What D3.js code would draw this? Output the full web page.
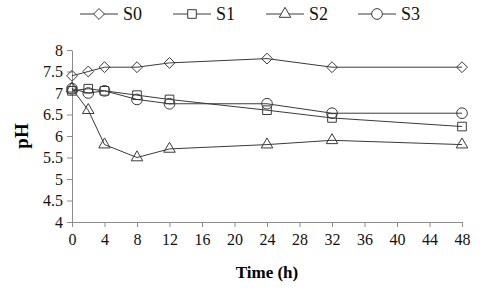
<!DOCTYPE html>
<html>
<head>
<meta charset="utf-8">
<script src="https://cdn.jsdelivr.net/npm/d3@7"></script>
<style>
  body { margin: 0; background: #fff; }
  svg, svg text { font-family: "Liberation Serif", "Times New Roman", Times, "DejaVu Serif", serif; }
</style>
</head>
<body>
<div id="chart"></div>
<script>
// Data
const times = [0, 2, 4, 8, 12, 24, 32, 48];
const seriesNames = ["S0", "S1", "S2", "S3"];
const s0 = [7.4, 7.5, 7.6, 7.6, 7.7, 7.8, 7.6, 7.6];
const s1 = [7.05, 7.1, 7.05, 6.95, 6.85, 6.6, 6.42, 6.22];
const s2 = [7.1, 6.6, 5.8, 5.5, 5.7, 5.8, 5.9, 5.8];
const s3 = [7.1, 7.0, 7.05, 6.85, 6.75, 6.75, 6.53, 6.53];
const xTicks = d3.range(0, 49, 4);
const yTicks = d3.range(4, 8.01, 0.5);

const W = 480, H = 289;
const margin = { top: 50, right: 18, bottom: 67, left: 72 };
const width = W - margin.left - margin.right;
const height = H - margin.top - margin.bottom;

const svgRoot = d3.select("#chart").append("svg")
    .attr("width", W)
    .attr("height", H);

const svg = svgRoot.append("g")
    .attr("transform", `translate(${margin.left},${margin.top})`);

// Scales
const x = d3.scaleLinear().domain([0, 48]).range([0, width]);
const y = d3.scaleLinear().domain([4, 8]).range([height, 0]);

const axisColor = "#8c8c8c";
const lineColor = "#3a3a3a";

// Axes
const xAxis = svg.append("g")
    .attr("transform", `translate(0,${height})`)
    .call(d3.axisBottom(x).tickValues(xTicks).tickSize(5).tickSizeOuter(0).tickPadding(7));
const yAxis = svg.append("g")
    .call(d3.axisLeft(y).tickValues(yTicks).tickSize(5).tickSizeOuter(0).tickPadding(4)
        .tickFormat(d => d3.format("")(+d.toFixed(1))));

[xAxis, yAxis].forEach(a => {
    a.attr("font-family", null);
    a.selectAll("path, line").attr("stroke", axisColor);
    a.selectAll("text")
        .style("font-size", "16px")
        .attr("fill", "#111");
});

// Axis titles
svg.append("text")
    .attr("x", width / 2)
    .attr("y", height + 56)
    .attr("text-anchor", "middle")
    .style("font-size", "17px")
    .style("font-weight", "bold")
    .text("Time (h)");

svg.append("text")
    .attr("transform", `translate(${-margin.left + 28},${height / 2}) rotate(-90)`)
    .attr("text-anchor", "middle")
    .style("font-size", "19px")
    .style("font-weight", "bold")
    .text("pH");

// Marker shapes
const symbols = {
    S0: d3.symbol().type(d3.symbolDiamond2).size(75),
    S1: d3.symbol().type(d3.symbolSquare2).size(95),
    S2: d3.symbol().type(d3.symbolTriangle2).size(95),
    S3: d3.symbol().type(d3.symbolCircle).size(90)
};

const allSeries = [s0, s1, s2, s3];
const line = d3.line().x(d => x(d.t)).y(d => y(d.v));

allSeries.forEach((vals, i) => {
    const name = seriesNames[i];
    const pts = times.map((t, j) => ({ t, v: vals[j] }));
    svg.append("path")
        .datum(pts)
        .attr("d", line)
        .attr("fill", "none")
        .attr("stroke", lineColor)
        .attr("stroke-width", 1);
    svg.selectAll(".m" + name)
        .data(pts)
        .enter().append("path")
        .attr("class", "m" + name)
        .attr("d", symbols[name]())
        .attr("transform", d => `translate(${x(d.t)},${y(d.v)})`)
        .attr("fill", "none")
        .attr("stroke", lineColor)
        .attr("stroke-width", 1);
});

// Legend
const legendX = [80, 173, 266, 358];
const legend = svgRoot.append("g");
seriesNames.forEach((name, i) => {
    const g = legend.append("g").attr("transform", `translate(${legendX[i]},14)`);
    g.append("line")
        .attr("x1", 0).attr("x2", 38)
        .attr("stroke", lineColor).attr("stroke-width", 1);
    g.append("path")
        .attr("d", symbols[name]())
        .attr("transform", "translate(19,0)")
        .attr("fill", "#fff")
        .attr("stroke", lineColor);
    g.append("text")
        .attr("x", 43)
        .attr("y", 6)
        .style("font-size", "18px")
        .attr("fill", "#111")
        .text(name);
});
</script>
</body>
</html>
